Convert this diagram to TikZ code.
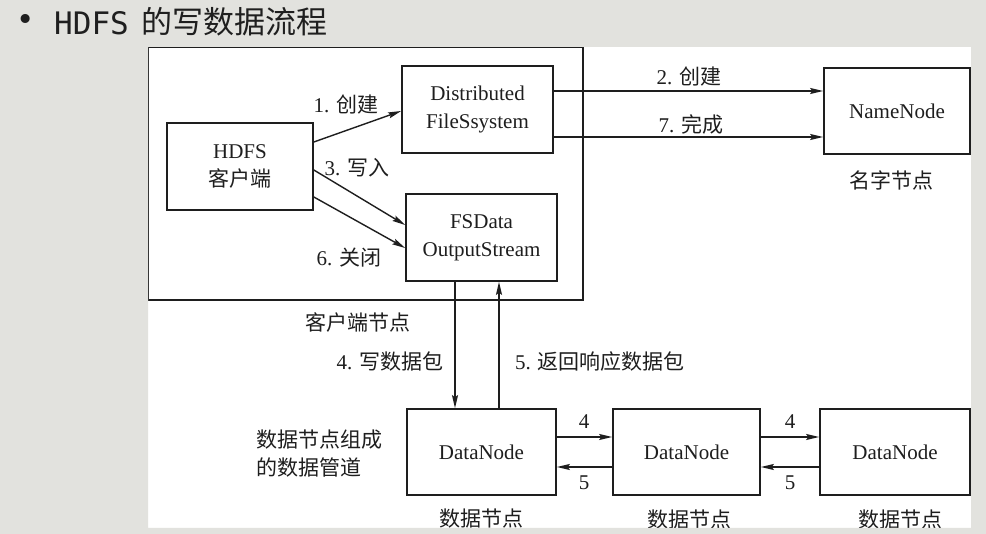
\documentclass[tikz,border=0pt]{standalone}
\usepackage{fontspec}
\setmainfont{Liberation Serif}
\newfontfamily\cjk{Noto Sans CJK SC}
\newfontfamily\monofnt{DejaVu Sans Mono}
\newfontfamily\dvs{DejaVu Sans}
\usetikzlibrary{arrows.meta}
\definecolor{bgc}{RGB}{226,226,222}
\definecolor{ink}{RGB}{30,30,30}
\begin{document}
\begin{tikzpicture}[x=1pt,y=-1pt,
 box/.style={draw=ink, line width=1.7pt, fill=white, inner sep=0pt, align=center, text=ink, font=\fontsize{21}{28}\selectfont},
 lbl/.style={inner sep=0pt, text=ink, font=\fontsize{21}{28}\selectfont},
 arr/.style={draw=ink, line width=1.4pt, -{Stealth[length=13pt,width=6pt,inset=2pt]}},
 ttl/.style={inner sep=0pt, text=black!88, font=\fontsize{31}{36}\selectfont},
]
\useasboundingbox (0,0) rectangle (986,534);
\fill[bgc] (0,0) rectangle (986,534);
\fill[white] (148,47) rectangle (971,528);

% boxes
\node[box, minimum width=435pt, minimum height=253pt] (client) at (365.5,173.5) {};
\node[box, minimum width=146pt, minimum height=87pt] (hdfs) at (240,166.5) {HDFS\\{\cjk 客户端}};
\node[box, minimum width=151pt, minimum height=87pt] (dfs) at (477.5,109.5) {Distributed\\FileSsystem};
\node[box, minimum width=151pt, minimum height=87pt] (fsd) at (481.5,237.5) {FSData\\OutputStream};
\node[box, minimum width=146pt, minimum height=86pt] (nn) at (897,111) {NameNode};
\node[box, minimum width=149pt, minimum height=86pt] (dn1) at (481.5,452) {DataNode};
\node[box, minimum width=147pt, minimum height=86pt] (dn2) at (686.5,452) {DataNode};
\node[box, minimum width=150pt, minimum height=86pt] (dn3) at (895,452) {DataNode};

% arrows
\draw[arr] ([yshift=24.5pt]hdfs.east) -- ([yshift=-1.5pt]dfs.west);
\draw[arr] ([yshift=-3.5pt]hdfs.east) -- ([yshift=12.5pt]fsd.west);
\draw[arr] ([yshift=-30.5pt]hdfs.east) -- ([yshift=-10.5pt]fsd.west);
\draw[arr] ([yshift=18.5pt]dfs.east) coordinate (a2) -- (a2 -| nn.west);
\draw[arr] ([yshift=-27.5pt]dfs.east) coordinate (a7) -- (a7 -| nn.west);
\draw[arr] ([xshift=-26.5pt]fsd.south) coordinate (a4) -- (a4 |- dn1.north);
\draw[arr] ([xshift=17.5pt]dn1.north) coordinate (a5) -- (a5 |- fsd.south);
\draw[arr] ([yshift=15pt]dn1.east) coordinate (b1) -- (b1 -| dn2.west);
\draw[arr] ([yshift=-15pt]dn2.west) coordinate (b2) -- (b2 -| dn1.east);
\draw[arr] ([yshift=15pt]dn2.east) coordinate (b3) -- (b3 -| dn3.west);
\draw[arr] ([yshift=-15pt]dn3.west) coordinate (b4) -- (b4 -| dn2.east);

% labels
\node[lbl] (l1) at (346,105) {1. {\cjk 创建}};
\node[lbl] (l3) at (357,168) {3. {\cjk 写入}};
\node[lbl] (l6) at (349,258) {6. {\cjk 关闭}};
\node[lbl] (l2) at (689,77) {2. {\cjk 创建}};
\node[lbl] (l7) at (691,125) {7. {\cjk 完成}};
\node[lbl] (lnn) at (891,180) {\cjk 名字节点};
\node[lbl] (lcl) at (358,322) {\cjk 客户端节点};
\node[lbl] (l4) at (390,362) {4. {\cjk 写数据包}};
\node[lbl, anchor=west] (l5) at (515,362) {5. {\cjk 返回响应数据包}};
\node[lbl, anchor=west] (lp1) at (256,440) {\cjk 数据节点组成};
\node[lbl, anchor=west] (lp2) at (256,468) {\cjk 的数据管道};
\node[lbl] (ld1) at (481,519) {\cjk 数据节点};
\node[lbl] (ld2) at (689,520) {\cjk 数据节点};
\node[lbl] (ld3) at (900,520) {\cjk 数据节点};
\node[lbl] (n4a) at (584,422) {4};
\node[lbl] (n5a) at (584,483) {5};
\node[lbl] (n4b) at (790,422) {4};
\node[lbl] (n5b) at (790,483) {5};

% outer frame (clips labels at panel edge)
\fill[bgc, even odd rule] (0,0) rectangle (986,534) (148,47) rectangle (971,528);

% title
\node[ttl, font=\dvs\fontsize{31}{36}\selectfont] (bul) at (26,23) {•};
\node[ttl, anchor=west, font=\monofnt\fontsize{31}{36}\selectfont] (th) at (54,23) {HDFS};
\node[ttl, anchor=west, font=\cjk\fontsize{31}{36}\selectfont] (tc) at (141,22) {的写数据流程};
\end{tikzpicture}
\end{document}
